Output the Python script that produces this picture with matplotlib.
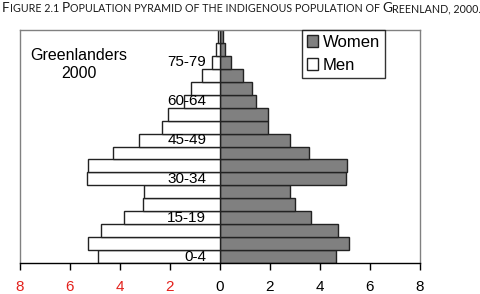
import matplotlib
matplotlib.use("Agg")
import matplotlib.pyplot as plt
import numpy as np

# data (percent of population)
age_groups = ["0-4", "5-9", "10-14", "15-19", "20-24", "25-29", "30-34", "35-39",
              "40-44", "45-49", "50-54", "55-59", "60-64", "65-69", "70-74",
              "75-79", "80-84", "85+"]
men = [4.86, 5.30, 4.78, 3.86, 3.10, 3.06, 5.34, 5.30, 4.30, 3.23, 2.34, 2.07,
       1.43, 1.16, 0.74, 0.32, 0.17, 0.10]
women = [4.65, 5.15, 4.71, 3.63, 2.99, 2.79, 5.03, 5.07, 3.57, 2.79, 1.91, 1.91,
         1.43, 1.27, 0.91, 0.43, 0.20, 0.12]
shown_labels = ["0-4", "15-19", "30-34", "45-49", "60-64", "75-79"]
xticks = [-8, -6, -4, -2, 0, 2, 4, 6, 8]
xtick_labels = ["8", "6", "4", "2", "0", "2", "4", "6", "8"]
title = "Figure 2.1 Population pyramid of the indigenous population of Greenland, 2000."

plt.rcParams['font.family'] = ['Liberation Sans', 'DejaVu Sans']

fig = plt.figure(figsize=(4.8, 2.94), dpi=100)
ax = fig.add_axes([20/480, 1 - 263/294, 400/480, 233/294])

y = np.arange(len(age_groups))
ax.barh(y, women, height=1.0, color="#808080", edgecolor="#222222", linewidth=1.0,
        label="Women", zorder=2)
ax.barh(y, -np.array(men), height=1.0, color="white", edgecolor="#222222", linewidth=1.0,
        label="Men", zorder=2)

ax.set_xlim(-8, 8)
ax.set_ylim(-0.5, len(age_groups) - 0.5)
ax.set_yticks([])
ax.set_xticks(xticks)
ax.set_xticklabels(xtick_labels, fontsize=11)
for lab, v in zip(ax.get_xticklabels(), xticks):
    lab.set_color("#e3211c" if v < 0 else "black")
ax.tick_params(axis="x", direction="out", length=5, width=1, pad=7)

for s in ["left", "top", "right"]:
    ax.spines[s].set_color("#808080")
    ax.spines[s].set_linewidth(1)
ax.spines["bottom"].set_color("black")
ax.spines["bottom"].set_linewidth(1)
ax.spines["bottom"].set_zorder(3)

# age labels inside, left of center
for i, g in enumerate(age_groups):
    if g in shown_labels:
        ax.text(-0.55, i, g, ha="right", va="center", fontsize=11, zorder=4)

ax.text(-5.65, 14.85, "Greenlanders\n2000", ha="center", va="center", fontsize=11.5,
        linespacing=1.3)

leg = ax.legend(loc="upper left", bbox_to_anchor=(0.704, 1.0), frameon=True,
                fancybox=False, fontsize=12, handlelength=0.7, handleheight=0.7,
                handletextpad=0.25, borderpad=0.3, labelspacing=0.45, borderaxespad=0)
leg.get_frame().set_edgecolor("black")
leg.get_frame().set_linewidth(1)

# small caps title
segs = []
for ch in title:
    big = ch.isupper()
    t = ch.upper()
    if segs and segs[-1][1] == big:
        segs[-1][0] += t
    else:
        segs.append([t, big])

renderer = fig.canvas.get_renderer()
big_size, small_size = 9.0, 7.0
def draw_title(scale):
    x = 2
    arts = []
    for txt, big in segs:
        t = fig.text(x / 480, 1 - 12 / 294, txt, fontsize=(big_size if big else small_size) * scale,
                     family="Lato", color="#1a1a1a", ha="left", va="baseline")
        bb = t.get_window_extent(renderer)
        x += bb.width
        arts.append(t)
    return x, arts

end, arts = draw_title(1.0)
for a in arts:
    a.remove()
draw_title(476 / (end - 2) if end > 2 else 1.0)

fig.savefig("out.png", dpi=100)
